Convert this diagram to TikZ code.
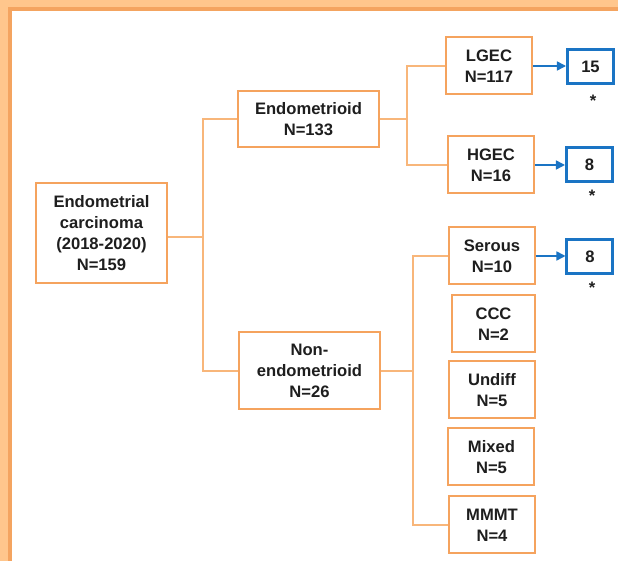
\documentclass[tikz,border=0pt]{standalone}
\usepackage{fontspec}
\setmainfont{Liberation Sans}
\usepackage{xcolor}
\definecolor{frame}{HTML}{FFC68C}
\definecolor{framedark}{HTML}{F4A460}
\definecolor{boxline}{HTML}{F5A35E}
\definecolor{linkline}{HTML}{F8B67A}
\definecolor{accent}{HTML}{1A74C4}
\definecolor{ink}{HTML}{1E1E1E}
\usepackage{tikz}
\usetikzlibrary{calc,positioning,arrows.meta}

\tikzset{
  box/.style={draw=boxline, line width=1pt, fill=white, align=center, inner sep=0pt,
    minimum width=43pt, minimum height=28.5pt, text=ink,
    font=\fontsize{8.3}{10.5}\selectfont\bfseries},
  countbox/.style={draw=accent, line width=1.5pt, fill=white, inner sep=0pt,
    minimum width=23pt, minimum height=17pt, text=ink,
    font=\fontsize{8.3}{10.5}\selectfont\bfseries},
  link/.style={linkline, line width=0.8pt},
  arr/.style={accent, line width=0.75pt, -{Triangle[length=4.5pt,width=4.5pt]}},
  star/.style={text=ink, inner sep=0pt, font=\fontsize{8.3}{10.5}\selectfont\bfseries}
}

\begin{document}
\begin{tikzpicture}[x=0.5pt, y=-0.5pt]
  \useasboundingbox (0,0) rectangle (618,561);

  % Frame
  \fill[frame] (0,0) rectangle (618,561);
  \fill[framedark] (8,7) rectangle (640,580);
  \fill[white] (12,11) rectangle (640,580);

  % Root and first level
  \node[box, minimum width=65.5pt, minimum height=50pt] (root) at (101.5,233)
    {Endometrial\\carcinoma\\(2018-2020)\\N=159};
  \node[box, minimum width=70.5pt, minimum height=28pt] (endo) at (308.5,119)
    {Endometrioid\\N=133};
  \node[box, minimum width=70.5pt, minimum height=38.5pt] (nonendo) at (309.5,371)
    {Non-\\endometrioid\\N=26};

  % Subtypes
  \node[box] (lgec) at (489,66) {LGEC\\N=117};
  \node[box] (hgec) at (491,165) {HGEC\\N=16};
  \node[box] (serous) at (492,256) {Serous\\N=10};
  \node[box, minimum width=41.5pt] (ccc) at (493.5,324) {CCC\\N=2};
  \node[box] (undiff) at (492,390) {Undiff\\N=5};
  \node[box] (mixed) at (491.5,457) {Mixed\\N=5};
  \node[box] (mmmt) at (492,525) {MMMT\\N=4};

  % Counts
  \node[countbox] (nlgec) at (590.5,67) {15};
  \node[countbox] (nhgec) at (589.5,164.5) {8};
  \node[countbox] (nserous) at (590,256.5) {8};
  \node[star] (slgec) at (593,101) {*};
  \node[star] (shgec) at (592,196) {*};
  \node[star] (sserous) at (592,288) {*};

  % Connectors
  \coordinate (trunk) at (203,237);
  \coordinate (ebr) at (407,119);
  \coordinate (nbr) at (413,371);
  \draw[link] (root.east |- trunk) -- (trunk);
  \draw[link] (endo.west) -| (trunk) |- (nonendo.west);
  \draw[link] (endo.east) -- (ebr);
  \draw[link] (lgec.west) -| (ebr) |- (hgec.west);
  \draw[link] (nonendo.east) -- (nbr);
  \draw[link] (serous.west) -| (nbr) |- (mmmt.west);

  % Arrows
  \draw[arr] (lgec.east) -- (lgec.east -| nlgec.west);
  \draw[arr] (hgec.east) -- (hgec.east -| nhgec.west);
  \draw[arr] (serous.east) -- (serous.east -| nserous.west);
\end{tikzpicture}
\end{document}
